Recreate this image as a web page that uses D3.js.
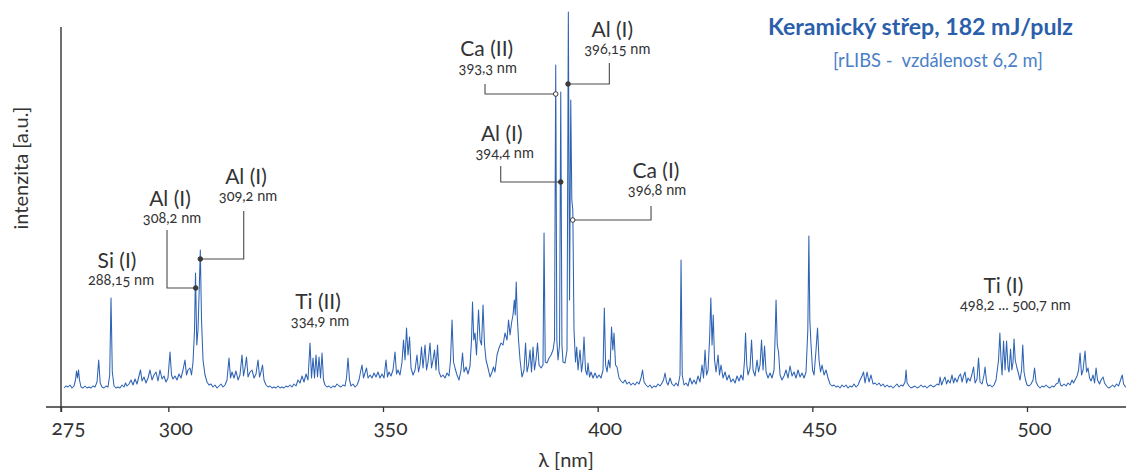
<!DOCTYPE html>
<html><head><meta charset="utf-8">
<script src="https://cdn.jsdelivr.net/npm/d3@7/dist/d3.min.js"></script>
<style>
body{margin:0;background:#fff;}
svg{display:block;font-family:Lato,"Open Sans",sans-serif;}
.onum{font-variant-numeric:oldstyle-nums;font-feature-settings:"onum" 1;}
.pre{white-space:pre;}
</style></head><body>
<svg id="c" width="1126" height="470"></svg>
<script>
// ---------- DATA ----------
const xTickValues = [275, 300, 350, 400, 450, 500];

const wavelengths = [
275.70,276.16,276.63,277.10,277.56,278.03,278.38,278.61,278.84,279.08,279.31,279.66,280.12,280.59,281.06,281.52,281.99,282.45,282.92,283.39,283.78,284.13,284.55,285.02,285.48,285.95,286.34,286.65,286.95,287.35,287.81,288.28,288.74,289.21,289.67,290.02,290.37,290.84,291.31,291.77,292.24,292.70,293.17,293.52,293.87,294.33,294.80,295.27,295.73,296.20,296.66,297.13,297.59,298.06,298.53,298.99,299.46,299.92,
300.39,300.74,301.09,301.55,302.02,302.49,302.95,303.42,303.88,304.23,304.58,305.05,305.40,305.75,306.10,306.33,306.63,306.91,307.19,307.45,307.73,308.08,308.54,309.01,309.47,309.94,310.41,310.87,311.34,311.80,312.27,312.73,313.20,313.67,314.13,314.48,314.83,315.30,315.76,316.23,316.69,317.16,317.51,317.86,318.21,318.56,319.02,319.49,319.96,320.42,320.89,321.24,321.59,321.94,322.28,322.75,323.22,323.68,324.15,324.61,325.08,325.55,326.01,326.48,326.94,327.41,327.88,328.34,328.81,329.27,329.74,
330.20,330.67,331.14,331.60,332.07,332.53,333.00,333.35,333.70,334.05,334.40,334.75,335.10,335.45,335.80,336.14,336.49,336.96,337.43,337.89,338.36,338.82,339.29,339.76,340.22,340.69,341.15,341.50,341.85,342.20,342.55,343.02,343.48,343.95,344.41,344.76,345.11,345.46,345.81,346.16,346.51,346.98,347.44,347.91,348.37,348.84,349.31,349.77,
350.24,350.70,351.05,351.40,351.87,352.33,352.80,353.15,353.50,353.96,354.43,354.78,355.13,355.48,355.83,356.18,356.53,356.99,357.46,357.92,358.27,358.62,358.97,359.32,359.79,360.14,360.49,360.95,361.30,361.65,362.00,362.35,362.70,363.05,363.51,363.98,364.45,364.91,365.38,365.73,366.08,366.43,366.77,367.24,367.71,368.17,368.52,368.87,369.34,369.80,
370.27,370.62,370.85,371.15,371.43,371.78,372.25,372.60,372.95,373.30,373.65,374.00,374.46,374.93,375.39,375.74,376.09,376.56,377.02,377.49,377.96,378.42,378.89,379.24,379.59,379.94,380.28,380.59,380.80,381.03,381.29,381.57,381.92,382.38,382.85,383.20,383.55,383.90,384.24,384.59,384.94,385.29,385.64,385.99,386.34,386.81,387.27,387.51,387.79,388.20,388.67,389.14,389.60,389.95,
390.23,390.49,390.77,391.12,391.40,391.68,391.93,392.40,392.86,393.17,393.45,393.73,393.98,394.21,394.49,394.84,395.12,395.43,395.89,396.24,396.54,396.82,397.17,397.52,397.75,398.10,398.45,398.92,399.39,399.85,
400.32,400.78,401.25,401.55,401.85,402.18,402.53,402.88,403.23,403.53,403.81,404.16,404.51,404.98,405.44,405.91,406.37,406.84,407.30,407.77,408.24,408.70,409.17,409.63,410.10,410.45,410.80,411.26,411.73,412.20,412.66,413.13,413.59,414.06,414.53,414.99,415.34,415.69,416.04,416.39,416.85,417.32,417.79,418.25,418.72,419.18,419.42,419.70,
420.12,420.58,421.05,421.51,421.98,422.44,422.91,423.38,423.84,424.31,424.66,425.01,425.36,425.71,426.06,426.36,426.64,426.92,427.22,427.57,428.04,428.38,428.73,429.20,429.67,430.13,430.60,431.06,431.53,432.00,432.46,432.93,433.39,433.86,434.21,434.44,434.74,435.02,435.49,435.84,436.19,436.65,437.12,437.47,437.82,438.17,438.52,438.87,439.22,439.68,
440.15,440.61,441.08,441.31,441.55,441.83,442.13,442.48,442.94,443.41,443.87,444.34,444.81,445.27,445.74,446.20,446.67,447.14,447.60,448.07,448.53,448.95,449.19,449.42,449.70,450.05,450.40,450.86,451.21,451.56,451.91,452.26,452.73,453.19,453.66,454.12,454.59,455.06,455.52,455.99,456.45,456.92,457.38,457.85,458.32,458.78,459.25,459.71,
460.18,460.65,461.11,461.58,461.93,462.28,462.74,463.21,463.67,464.14,464.61,465.07,465.54,466.00,466.47,466.93,467.40,467.87,468.33,468.80,469.26,469.73,470.20,470.66,471.13,471.59,471.83,472.06,472.53,472.99,473.46,473.92,474.39,474.85,475.32,475.79,476.25,476.72,477.18,477.65,478.12,478.58,479.05,479.51,479.75,
480.10,480.44,480.91,481.26,481.61,482.08,482.54,482.89,483.24,483.71,484.17,484.52,484.87,485.22,485.57,485.92,486.27,486.73,487.20,487.55,487.90,488.36,488.71,489.06,489.53,489.99,490.23,490.58,490.93,491.39,491.86,492.32,492.79,493.37,493.68,493.95,494.19,494.54,494.89,495.24,495.59,495.82,496.17,496.47,496.75,496.98,497.26,497.61,497.92,498.38,498.73,499.01,499.31,499.66,
500.01,500.48,500.94,501.41,501.76,502.11,502.57,503.04,503.51,503.97,504.44,504.90,505.37,505.84,506.30,506.77,507.23,507.47,507.82,508.16,508.63,509.10,509.56,510.03,510.49,510.84,511.19,511.66,512.01,512.36,512.71,513.06,513.52,513.87,514.22,514.57,514.92,515.39,515.74,516.09,516.43,516.90,517.25,517.72,518.06,518.53,519.00,519.46,519.93,520.39,520.86,521.33,521.79,522.19,522.49,522.96,523.42
];

const intensities = [
12,14,13,15,12,14,20,29,22,30,20,13,12,14,12,13,12,14,13,18,40,17,13,12,14,13,25,102,28,14,12,13,12,15,13,17,14,16,20,15,21,16,24,30,19,23,17,22,30,20,25,28,19,30,21,24,18,22,
48,25,21,24,20,26,22,30,40,25,30,32,25,38,70,127,55,70,110,150,80,40,25,18,15,16,13,15,12,14,16,13,15,20,42,22,28,22,29,20,25,45,24,32,43,23,28,30,22,26,40,23,28,35,20,15,13,14,12,13,12,14,12,13,12,14,13,15,13,16,14,
20,17,24,18,26,20,57,22,42,22,45,23,43,22,47,20,15,13,14,12,14,13,16,14,13,15,14,22,42,20,14,16,13,15,20,28,35,22,27,32,22,25,22,27,23,28,22,26,
22,40,23,28,24,30,48,26,30,25,38,60,40,72,45,63,32,25,30,45,28,35,53,32,55,30,38,57,32,40,50,30,55,28,23,25,22,27,24,40,80,38,32,25,20,30,47,28,33,26,
34,60,98,60,67,45,90,60,55,95,55,40,32,23,28,33,28,45,52,57,55,67,60,80,65,77,85,100,85,118,82,60,40,23,30,57,28,35,50,28,53,30,40,57,35,32,35,167,38,37,42,45,50,60,
335,60,40,55,308,55,38,37,50,388,100,300,200,190,70,38,53,30,50,28,38,63,30,25,37,23,28,22,27,22,
25,22,30,92,35,28,40,32,73,50,67,35,33,22,19,17,20,16,18,15,17,15,18,16,22,30,18,15,13,15,12,14,13,16,14,17,20,27,18,15,22,16,14,17,14,25,140,25,
15,17,14,22,16,20,16,24,18,35,22,50,25,30,60,102,55,85,40,28,45,25,35,22,28,20,25,18,21,17,24,19,25,20,40,67,35,25,32,60,30,24,40,28,35,60,30,54,28,22,
27,22,30,60,100,55,48,25,20,24,30,22,34,24,28,22,30,23,27,22,28,70,164,80,55,30,25,50,72,40,28,35,25,30,22,16,14,15,13,14,12,15,13,15,12,14,13,16,
13,15,20,24,28,17,28,18,25,16,17,15,17,14,16,13,15,13,14,12,14,16,13,15,14,18,30,17,14,12,13,14,12,13,15,13,14,12,14,15,13,14,16,15,23,
15,19,23,16,20,17,25,17,22,18,24,26,18,24,28,17,22,19,26,33,17,21,42,18,16,25,33,18,14,15,13,15,20,40,67,40,25,59,30,59,32,28,51,30,38,61,40,33,28,20,30,55,28,20,
15,14,16,20,32,18,14,12,14,13,15,13,12,14,13,16,17,22,15,14,16,14,17,15,20,17,20,24,30,47,25,30,49,28,32,22,19,25,17,32,20,16,20,23,17,14,12,13,15,13,16,14,20,25,16,13,13
];

// spectral line annotations
const lineNames = ["Si (I)", "Al (I)", "Al (I)", "Ti (II)", "Ca (II)", "Al (I)", "Al (I)", "Ca (I)", "Ti (I)"];
const lineWavelengthTexts = ["288,15 nm", "308,2 nm", "309,2 nm", "334,9 nm", "393,3 nm", "394,4 nm", "396,15 nm", "396,8 nm", "498,2 ... 500,7 nm"];

const titleText = "Keramický střep, 182 mJ/pulz";
const subtitleText = "[rLIBS -  vzdálenost 6,2 m]";
const xLabel = "λ [nm]";
const yLabel = "intenzita [a.u.]";

// ---------- LAYOUT (annotation placement in data units) ----------
const labelLayout = [
  {nm: 288.04, v: 132,  subDx: 4},
  {nm: 300.39, v: 194,  subDx: 2},
  {nm: 318.09, v: 216,  subDx: 2},
  {nm: 334.86, v: 91,   subDx: 2},
  {nm: 374.16, v: 344,  subDx: 1},
  {nm: 377.65, v: 259,  subDx: 3},
  {nm: 403.41, v: 363,  subDx: 5},
  {nm: 413.59, v: 222,  subDx: 1},
  {nm: 494.49, v: 107,  subDx: 12}
];
const leaderLayout = [
  {idx: 1, markNm: 306.38, markV: 112, elbowNm: 299.69, topV: 170, hollow: false},
  {idx: 2, markNm: 307.45, markV: 141, elbowNm: 317.56, topV: 189, hollow: false},
  {idx: 4, markNm: 390.23, markV: 306, elbowNm: 373.76, topV: 316, hollow: true},
  {idx: 5, markNm: 391.40, markV: 218, elbowNm: 377.42, topV: 234, hollow: false},
  {idx: 6, markNm: 393.10, markV: 316, elbowNm: 402.72, topV: 337, hollow: false},
  {idx: 7, markNm: 394.19, markV: 180, elbowNm: 412.43, topV: 194, hollow: true}
];

// ---------- CHART ----------
const svg = d3.select("#c");
const W = 1126, H = 470;
const x = d3.scaleLinear().domain([275, 500]).range([61, 1027]);
const y = d3.scaleLinear().domain([0, 388]).range([400, 12]);
const axisColor = "#333";
const textColor = "#333";
const lineColor = "#2e63b4";

function fitWidth(sel, target) {
  const len = sel.node().getComputedTextLength();
  const fs = parseFloat(sel.attr("font-size"));
  if (len > 0) sel.attr("font-size", (fs * target / len).toFixed(2));
}

svg.append("defs").append("clipPath").attr("id", "plotclip")
  .append("rect").attr("x", 61).attr("y", 0).attr("width", W - 61).attr("height", 406);

const pts = wavelengths.map((w, i) => [w, intensities[i]]);
svg.append("path")
  .datum(pts)
  .attr("clip-path", "url(#plotclip)")
  .attr("fill", "none")
  .attr("stroke", lineColor)
  .attr("stroke-width", 1.05)
  .attr("stroke-linejoin", "round")
  .attr("d", d3.line().x(d => x(d[0])).y(d => y(d[1])));

// axes
const axisY = 407;
svg.append("line").attr("x1", 46).attr("x2", W).attr("y1", axisY).attr("y2", axisY)
  .attr("stroke", axisColor).attr("stroke-width", 1.4);
svg.append("line").attr("x1", x(275)).attr("x2", x(275)).attr("y1", 27).attr("y2", 412)
  .attr("stroke", axisColor).attr("stroke-width", 1.4);

const xAxis = d3.axisBottom(x).tickValues(xTickValues).tickSize(5).tickSizeOuter(0).tickPadding(8)
  .tickFormat(d3.format("d"));
const gx = svg.append("g").attr("transform", `translate(0,${axisY})`).call(xAxis)
  .attr("font-family", "Lato, 'Open Sans', sans-serif");
gx.select(".domain").remove();
gx.selectAll(".tick line").attr("stroke", axisColor).attr("stroke-width", 1.3);
gx.selectAll(".tick text")
  .style("font-variant-numeric", "oldstyle-nums")
  .style("font-feature-settings", "'onum' 1")
  .attr("fill", textColor).attr("font-size", 21).attr("dx", 7);

// axis labels
svg.append("text").attr("x", 566).attr("y", 467).attr("text-anchor", "middle")
  .attr("font-size", 20).attr("fill", textColor).text(xLabel);
const yl = svg.append("text").attr("transform", "translate(28,168) rotate(-90)").attr("text-anchor", "middle")
  .attr("font-size", 20).attr("fill", textColor).text(yLabel);
fitWidth(yl, 123);

// title
const tt = svg.append("text").attr("x", 768).attr("y", 35).attr("font-size", 20).attr("font-weight", "bold")
  .attr("fill", "#2b5fab").text(titleText);
fitWidth(tt, 305);
const st = svg.append("text").attr("class", "pre").attr("x", 833).attr("y", 67).attr("font-size", 16)
  .attr("fill", "#4a80c8").text(subtitleText);
fitWidth(st, 210);

// leaders
const gLead = svg.append("g");
leaderLayout.forEach(L => {
  const mx = x(L.markNm), my = y(L.markV), ex = x(L.elbowNm), ty = y(L.topV);
  gLead.append("path")
    .attr("d", `M${ex},${ty}V${my}H${mx}`)
    .attr("fill", "none").attr("stroke", "#4a4a4a").attr("stroke-width", 1.1);
  gLead.append("circle").attr("cx", mx).attr("cy", my).attr("r", 2.3)
    .attr("fill", L.hollow ? "#fff" : "#3a3a3a").attr("stroke", "#3a3a3a").attr("stroke-width", 1);
});

// labels
const gLab = svg.append("g");
labelLayout.forEach((L, i) => {
  const cx = x(L.nm), by = y(L.v);
  gLab.append("text").attr("x", cx).attr("y", by).attr("text-anchor", "middle")
    .attr("font-size", 21).attr("fill", textColor).text(lineNames[i]);
  gLab.append("text").attr("class", "onum").attr("x", cx + L.subDx).attr("y", by + 17)
    .attr("text-anchor", "middle").attr("font-size", 14.5).attr("fill", textColor)
    .text(lineWavelengthTexts[i]);
});
</script>
</body></html>
